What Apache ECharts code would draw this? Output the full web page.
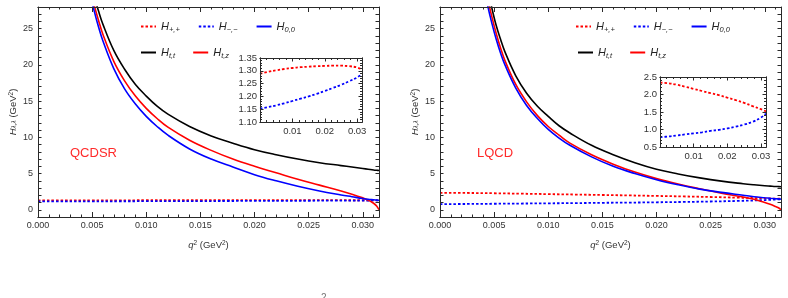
<!DOCTYPE html>
<html>
<head>
<meta charset="utf-8">
<script src="https://cdn.jsdelivr.net/npm/echarts@6/dist/echarts.min.js"></script>
<style>
  html, body { margin: 0; padding: 0; background: #fff; }
  #chart { width: 788px; height: 298px; }
</style>
</head>
<body>
<div id="chart"></div>
<script>
// q^2 grid (GeV^2) for the big curves
const qMain = [0.004, 0.0044, 0.0048, 0.0052, 0.0056, 0.006, 0.007, 0.008, 0.009, 0.010, 0.011, 0.012,
  0.014, 0.016, 0.018, 0.020, 0.022, 0.024, 0.026, 0.028, 0.029, 0.030, 0.0305, 0.031, 0.0313, 0.0315];

// QCDSR panel
const qcdsrHtt = [38.1, 34.7, 31.8, 29.4, 27.4, 25.6, 22.0, 19.4, 17.3, 15.7, 14.3, 13.2,
  11.5, 10.2, 9.2, 8.3, 7.6, 7.0, 6.5, 6.1, 5.9, 5.7, 5.6, 5.5, 5.45, 5.42];
const qcdsrHtz = [36.6, 33.5, 30.6, 28.2, 26.1, 24.2, 20.5, 17.8, 15.7, 14.0, 12.6, 11.4,
  9.6, 8.2, 7.0, 6.0, 5.1, 4.2, 3.4, 2.6, 2.15, 1.65, 1.35, 0.9, 0.5, 0.0];
const qcdsrH00 = [35.8, 32.8, 29.9, 27.4, 25.2, 23.3, 19.5, 16.7, 14.6, 12.9, 11.5, 10.3,
  8.4, 7.0, 5.9, 4.85, 4.0, 3.25, 2.6, 2.05, 1.8, 1.55, 1.45, 1.38, 1.33, 1.3];

// LQCD panel
const lqcdHtt = [33.5, 30.6, 27.8, 25.4, 23.5, 21.8, 18.5, 16.1, 14.3, 12.9, 11.6, 10.6,
  8.9, 7.6, 6.5, 5.6, 4.95, 4.4, 3.95, 3.6, 3.45, 3.32, 3.27, 3.22, 3.2, 3.18];
const lqcdHtz = [32.5, 29.2, 26.6, 24.3, 22.3, 20.6, 17.3, 14.9, 13.0, 11.5, 10.3, 9.2,
  7.6, 6.3, 5.2, 4.3, 3.55, 2.9, 2.3, 1.75, 1.45, 1.0, 0.75, 0.45, 0.25, 0.0];
const lqcdH00 = [31.2, 28.2, 25.7, 23.5, 21.6, 20.0, 16.8, 14.4, 12.6, 11.1, 9.9, 8.9,
  7.3, 6.0, 5.0, 4.15, 3.45, 2.85, 2.4, 2.0, 1.8, 1.65, 1.58, 1.52, 1.49, 1.47];

// transverse helicity amplitudes (small values, also in the insets)
const qSmall = [0, 0.0025, 0.005, 0.0075, 0.01, 0.0125, 0.015, 0.0175, 0.02, 0.0225, 0.025, 0.0275, 0.03, 0.0315];
const qcdsrHpp = [1.288, 1.296, 1.302, 1.307, 1.311, 1.314, 1.316, 1.318, 1.319, 1.320, 1.320, 1.318, 1.313, 1.305];
const qcdsrHmm = [1.152, 1.158, 1.165, 1.173, 1.182, 1.191, 1.200, 1.210, 1.221, 1.233, 1.245, 1.259, 1.274, 1.288];
const lqcdHpp = [2.34, 2.32, 2.28, 2.22, 2.16, 2.10, 2.04, 1.98, 1.91, 1.84, 1.76, 1.67, 1.58, 1.52];
const lqcdHmm = [0.78, 0.80, 0.83, 0.86, 0.89, 0.92, 0.96, 0.99, 1.03, 1.08, 1.14, 1.22, 1.34, 1.45];

const legendRow1 = ['Hpp', 'Hmm', 'H00'];
const legendRow2 = ['Htt', 'Htz'];
const legendText = {
  Hpp: '{h|H}{s|+,+}', Hmm: '{h|H}{s|\u2212,\u2212}', H00: '{h|H}{s|0,0}',
  Htt: '{h|H}{s|t,t}', Htz: '{h|H}{s|t,z}'
};

const red = '#ff0000', blue = '#0000ff', black = '#000000';
const frame = '#2a2a2a';
const font = 'Liberation Sans';

const panels = [
  { tag: 'QCDSR', tagX: 70, tt: qcdsrHtt, tz: qcdsrHtz, h00: qcdsrH00, pp: qcdsrHpp, mm: qcdsrHmm,
    main: { left: 38, top: 7, width: 341, height: 210 },
    inset: { left: 260, top: 58, width: 102, height: 64 },
    iy: { min: 1.1, max: 1.35, major: 0.05, minor: 0.01, digits: 2 },
    legend: [140, 140] },
  { tag: 'LQCD', tagX: 477, tt: lqcdHtt, tz: lqcdHtz, h00: lqcdH00, pp: lqcdHpp, mm: lqcdHmm,
    main: { left: 440, top: 7, width: 341, height: 210 },
    inset: { left: 660, top: 77, width: 106, height: 70 },
    iy: { min: 0.5, max: 2.5, major: 0.5, minor: 0.1, digits: 1 },
    legend: [575, 577] }
];

function pairs(q, v) { return q.map((x, i) => [x, v[i]]); }

function axis(grid, pos, min, max, interval, len, label) {
  return {
    type: 'value', gridIndex: grid, position: pos, min: min, max: max, interval: interval,
    axisLine: { show: true, onZero: false, lineStyle: { color: frame, width: 1 } },
    axisTick: { show: true, inside: true, length: len, lineStyle: { color: frame, width: 1 } },
    axisLabel: label ? Object.assign({ color: '#333', fontFamily: font, fontSize: 9 }, label) : { show: false },
    splitLine: { show: false },
    z: 5
  };
}

const subRich = {
  i: { fontStyle: 'italic', fontSize: 9.5, fontFamily: font },
  s: { fontStyle: 'italic', fontSize: 6.5, fontFamily: font, verticalAlign: 'bottom' },
  p: { fontSize: 6.5, fontFamily: font, verticalAlign: 'top' },
  n: { fontSize: 9.5, fontFamily: font }
};

const grids = [], xAxes = [], yAxes = [], series = [], legends = [], graphics = [];

panels.forEach((p, k) => {
  const gm = 2 * k, gi = 2 * k + 1;
  grids.push(Object.assign({ outerBoundsMode: 'none', show: false }, p.main));
  grids.push(Object.assign({ outerBoundsMode: 'none', show: true, backgroundColor: '#fff', borderWidth: 0 }, p.inset));

  // main frame, x
  const xm = axis(gm, 'bottom', 0, 0.0315, 0.005, 5,
    { margin: 4, showMaxLabel: false, formatter: v => v.toFixed(3) });
  xm.name = '{i|q}{p|2}{n| (GeV}{p|2}{n|)}';
  xm.nameLocation = 'middle';
  xm.nameGap = 23;
  xm.nameTextStyle = { color: '#333', fontSize: 9.5, fontFamily: font, rich: subRich };
  xAxes.push(xm,
    axis(gm, 'bottom', 0, 0.0315, 0.001, 2.5),
    axis(gm, 'top', 0, 0.0315, 0.005, 5),
    axis(gm, 'top', 0, 0.0315, 0.001, 2.5));
  // inset frame, x
  xAxes.push(
    axis(gi, 'bottom', 0, 0.0315, 0.01, 3.5,
      { margin: 4, fontSize: 9.5, showMaxLabel: false, formatter: v => (v === 0 ? '' : v.toFixed(2)) }),
    axis(gi, 'bottom', 0, 0.0315, 0.002, 2),
    axis(gi, 'top', 0, 0.0315, 0.01, 3.5),
    axis(gi, 'top', 0, 0.0315, 0.002, 2));

  // main frame, y
  const ym = axis(gm, 'left', -1, 28, 1, 3.5,
    { margin: 5, formatter: v => (v % 5 === 0 && v >= 0 ? String(v) : '') });
  ym.name = '{i|H}{s|\u03bb,\u03bb}{n| (GeV}{p|2}{n|)}';
  ym.nameLocation = 'middle';
  ym.nameGap = 20;
  ym.nameTextStyle = { color: '#333', fontSize: 9.5, fontFamily: font, rich: subRich };
  yAxes.push(ym, axis(gm, 'right', -1, 28, 1, 3.5));
  // inset frame, y
  const iy = p.iy;
  yAxes.push(
    axis(gi, 'left', iy.min, iy.max, iy.major, 3.5,
      { margin: 3, fontSize: 9.5, formatter: v => v.toFixed(iy.digits) }),
    axis(gi, 'left', iy.min, iy.max, iy.minor, 2),
    axis(gi, 'right', iy.min, iy.max, iy.major, 3.5),
    axis(gi, 'right', iy.min, iy.max, iy.minor, 2));

  const xb = 8 * k, yb = 6 * k;
  const base = { type: 'line', symbol: 'none', showSymbol: false, smooth: 0.4,
    animation: false, clip: true, emphasis: { disabled: true } };
  const dot = c => ({ color: c, width: 1.8, type: [2.5, 2] });
  const solid = c => ({ color: c, width: 1.6 });
  series.push(
    Object.assign({}, base, { name: 'Hpp', xAxisIndex: xb, yAxisIndex: yb, data: pairs(qSmall, p.pp), lineStyle: dot(red), itemStyle: { color: red } }),
    Object.assign({}, base, { name: 'Hmm', xAxisIndex: xb, yAxisIndex: yb, data: pairs(qSmall, p.mm), lineStyle: dot(blue), itemStyle: { color: blue } }),
    Object.assign({}, base, { name: 'Htt', xAxisIndex: xb, yAxisIndex: yb, data: pairs(qMain, p.tt), lineStyle: solid(black), itemStyle: { color: black } }),
    Object.assign({}, base, { name: 'Htz', xAxisIndex: xb, yAxisIndex: yb, data: pairs(qMain, p.tz), lineStyle: solid(red), itemStyle: { color: red } }),
    Object.assign({}, base, { name: 'H00', xAxisIndex: xb, yAxisIndex: yb, data: pairs(qMain, p.h00), lineStyle: solid(blue), itemStyle: { color: blue } }),
    Object.assign({}, base, { name: 'Hpp', xAxisIndex: xb + 4, yAxisIndex: yb + 2, data: pairs(qSmall, p.pp), lineStyle: dot(red), itemStyle: { color: red }, z: 4 }),
    Object.assign({}, base, { name: 'Hmm', xAxisIndex: xb + 4, yAxisIndex: yb + 2, data: pairs(qSmall, p.mm), lineStyle: dot(blue), itemStyle: { color: blue }, z: 4 })
  );

  [legendRow1, legendRow2].forEach((row, r) => {
    legends.push({
      data: row, left: p.legend[r], top: r === 0 ? 21 : 47, orient: 'horizontal',
      padding: 0, itemWidth: 15, itemHeight: 8, itemGap: r === 0 ? 18 : 17, selectedMode: false,
      itemStyle: { opacity: 0, borderWidth: 0 },
      formatter: n => legendText[n],
      textStyle: {
        color: '#222', fontFamily: font, fontSize: 11,
        rich: {
          h: { fontStyle: 'italic', fontSize: 11, fontFamily: font, color: '#222', lineHeight: 14 },
          s: { fontStyle: 'italic', fontSize: 7.5, fontFamily: font, color: '#222', verticalAlign: 'bottom' }
        }
      }
    });
  });

  graphics.push({ type: 'text', x: p.tagX, y: 153,
    style: { text: p.tag, fill: '#ff2a2a', font: '13px "Liberation Sans"', verticalAlign: 'middle' } });
});

// top of the cut-off caption below the panels
graphics.push({ type: 'text', x: 321, y: 293, style: { text: '2', fill: '#777', font: '10px "Liberation Sans"' } });

const chart = echarts.init(document.getElementById('chart'));
chart.setOption({
  animation: false,
  backgroundColor: '#fff',
  textStyle: { fontFamily: font },
  grid: grids,
  xAxis: xAxes,
  yAxis: yAxes,
  legend: legends,
  series: series,
  graphic: graphics
});
</script>
</body>
</html>
